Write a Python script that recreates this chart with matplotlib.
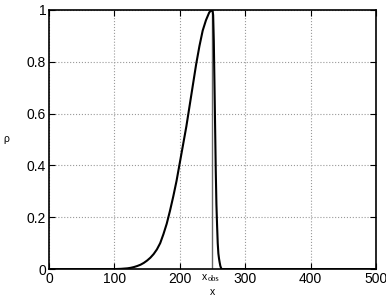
import matplotlib
matplotlib.use("Agg")
import matplotlib.pyplot as plt

x_vals = [0, 50, 100, 105, 110, 115, 120, 125, 130, 135, 140, 145, 150, 155,
          160, 165, 170, 175, 180, 185, 190, 195, 200, 205, 210, 215, 220,
          225, 230, 235, 240, 245, 248, 250, 251, 252, 253, 254, 255, 256,
          257, 258, 259, 260, 261, 262, 263, 264, 300, 400, 500]
rho_vals = [0, 0, 0, 0.0005, 0.001, 0.002, 0.003, 0.005, 0.008, 0.012, 0.017,
            0.024, 0.033, 0.044, 0.058, 0.076, 0.1, 0.135, 0.175, 0.225,
            0.28, 0.34, 0.41, 0.48, 0.55, 0.63, 0.71, 0.79, 0.86, 0.92, 0.96,
            0.99, 0.998, 1.0, 0.98, 0.88, 0.72, 0.55, 0.38, 0.25, 0.17, 0.1,
            0.06, 0.04, 0.025, 0.012, 0.005, 0, 0, 0, 0]
x_obs = 250
x_ticks = [0, 100, 200, 300, 400, 500]
y_ticks = [0, 0.2, 0.4, 0.6, 0.8, 1]
y_tick_labels = ["0", "0.2", "0.4", "0.6", "0.8", "1"]

plt.rcParams['font.family'] = ['Liberation Sans', 'DejaVu Sans']
fig = plt.figure(figsize=(3.86, 2.99), dpi=100)
ax = fig.add_axes([0.127, 0.100, 0.847, 0.867])

ax.axvline(x_obs, color='#666666', lw=1.0)
ax.plot(x_vals, rho_vals, color='black', lw=1.5)

ax.set_xlim(0, 500)
ax.set_ylim(0, 1)
ax.set_xticks(x_ticks)
ax.set_yticks(y_ticks)
ax.set_yticklabels(y_tick_labels)
ax.tick_params(direction='in', labelsize=10, length=4, width=0.8, pad=2,
               top=True, right=True)
ax.grid(True, linestyle=':', color='#999999', lw=0.8)
for s in ax.spines.values():
    s.set_linewidth(1.2)

ax.text(242, -0.012, 'x', ha='right', va='top', fontsize=7.5)
ax.text(243, -0.022, 'obs', ha='left', va='top', fontsize=6,
        family=['Liberation Serif', 'DejaVu Serif'])

ax.set_xlabel('x', fontsize=7.5)
ax.xaxis.set_label_coords(0.5, -0.09)
ax.xaxis.label.set_va('center')
ax.set_ylabel('ρ', fontsize=7.5, rotation=0)
ax.yaxis.set_label_coords(-0.13, 0.5)
ax.yaxis.label.set_va('center')
ax.yaxis.label.set_ha('center')

fig.savefig('out.png', dpi=100)
